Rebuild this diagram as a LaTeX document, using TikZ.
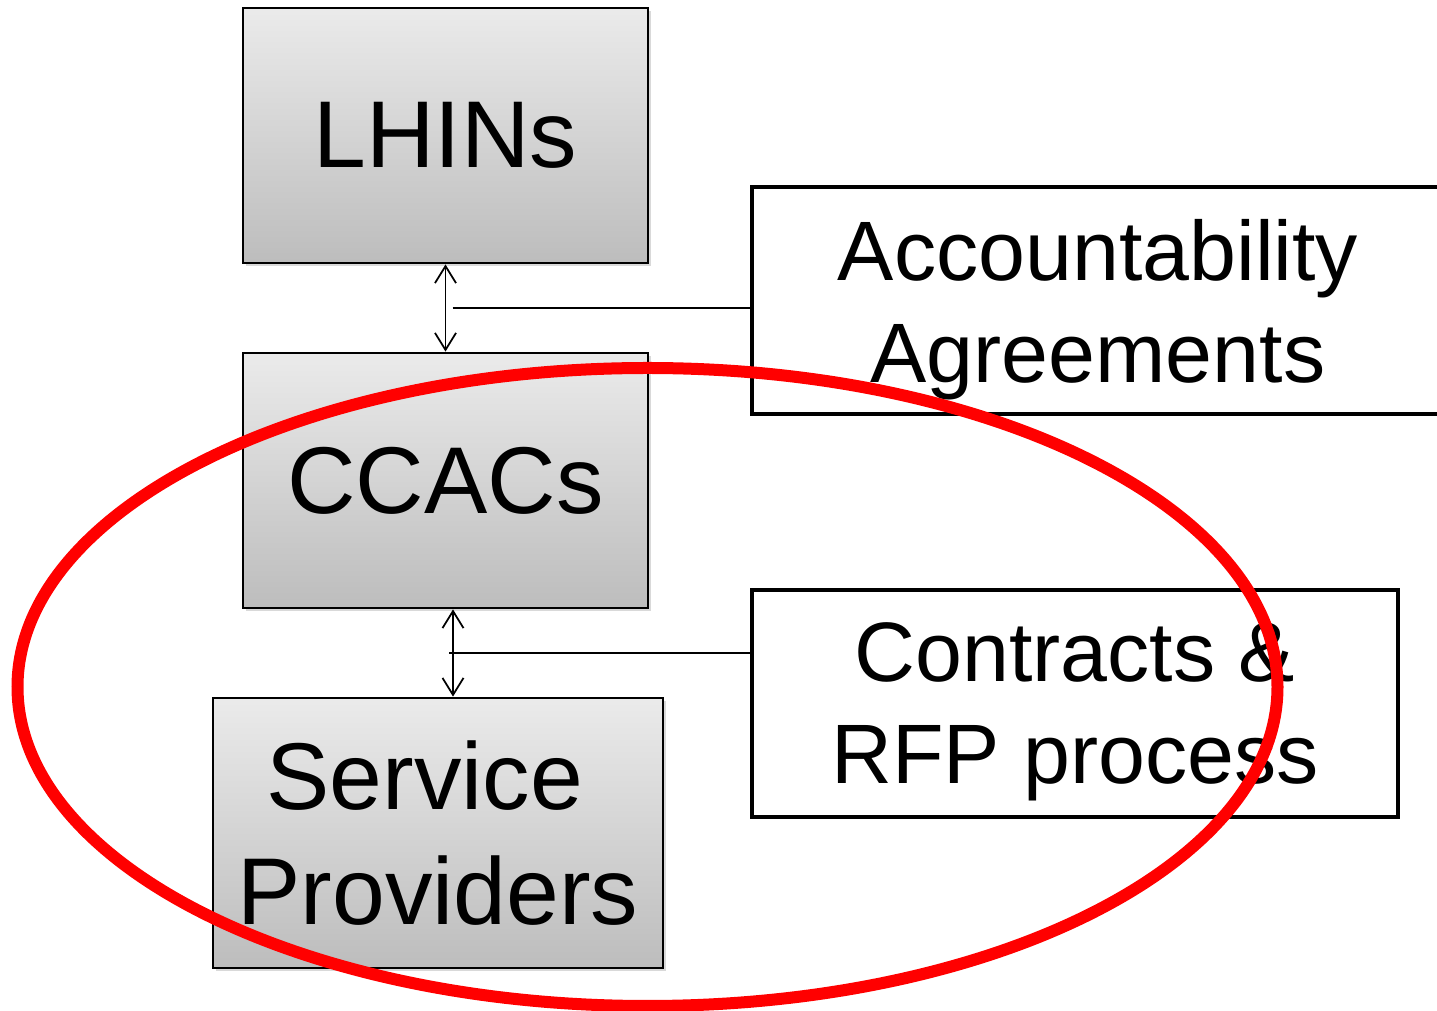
\documentclass[tikz,border=0pt]{standalone}
\usepackage{fontspec}
\setmainfont{Liberation Sans}
\usetikzlibrary{arrows.meta,positioning,shadows,calc}

\begin{document}
\begin{tikzpicture}[
        node distance=.872cm and .872cm,
        >={Straight Barb[length=.17cm,width=.21cm]},
        every path/.style={line width=.5pt},
        entity/.style={draw, line width=.8pt, top color=black!8, bottom color=black!26,
            drop shadow={shadow xshift=.03cm, shadow yshift=-.03cm, opacity=.3},
            align=center, inner sep=2pt, minimum width=4.05cm, minimum height=2.55cm,
            font=\fontsize{27}{32.7}\selectfont},
        doc/.style={draw, line width=1.1pt, fill=white, align=center, inner sep=2pt,
            text depth=0pt, minimum height=2.27cm, font=\fontsize{24}{29}\selectfont},
        ring/.style={draw=red, line width=.12cm}
    ]
    \useasboundingbox (0,0) rectangle (14.37,-10.11);

    % Nodes
    \node (lhins)[entity] at (4.455,-1.355) {LHINs};
    \node (ccacs)[entity, below=of lhins] {CCACs};
    \node (sp)[entity, below=of ccacs, xshift=-.075cm, minimum width=4.5cm, minimum height=2.7cm]
        {Service\hspace*{.278em} \\ Providers};

    \node (acc)[doc, minimum width=6.92cm] at (10.98,-3.005) {Accountability \\ Agreements};
    \node (con)[doc, minimum width=6.46cm] at (10.75,-7.035) {Contracts \& \\ RFP process};

    \coordinate (a1) at ([xshift=.07cm]$(lhins.south)!.5!(ccacs.north)$);
    \coordinate (a2) at ([xshift=.075cm]$(ccacs.south)!.5!(sp.north)$);

    % Edges
    \draw[<->] (lhins) -- (ccacs);
    \draw (a1) -- (a1 -| acc.west);
    \draw[<->] ([xshift=.075cm]ccacs.south) -- ([xshift=.15cm]sp.north);
    \draw (a2) -- (a2 -| con.west);

    % Highlight
    \draw[ring] (6.475,-6.87) ellipse (6.30cm and 3.19cm);

\end{tikzpicture}
\end{document}
